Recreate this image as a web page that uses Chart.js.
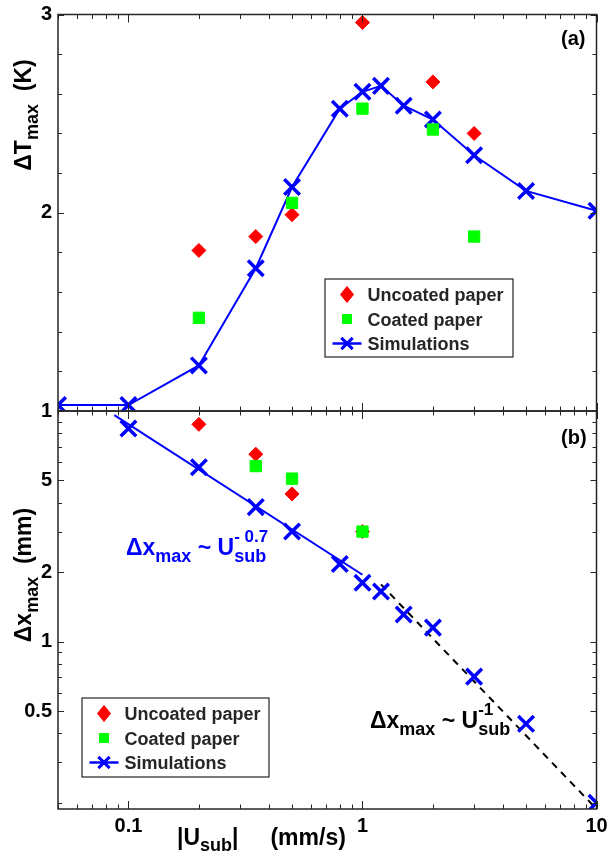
<!DOCTYPE html>
<html>
<head>
<meta charset="utf-8">
<script src="https://cdn.jsdelivr.net/npm/chart.js@4.4.0/dist/chart.umd.min.js"></script>
<style>
  body { margin: 0; background: #fff; }
  #wrap { position: relative; width: 611px; height: 854px; overflow: hidden; }
  #wrap canvas { position: absolute; left: 0; top: 0; }
</style>
</head>
<body>
<div id="wrap">
  <canvas id="tempChart" width="611" height="854"></canvas>
  <canvas id="widthChart" width="611" height="854"></canvas>
</div>
<script>
// Substrate speed |U_sub| (mm/s) for each series
const speedSimTop = [0.05, 0.1, 0.2, 0.35, 0.5, 0.8, 1, 1.2, 1.5, 2, 3, 5, 10];
const tempSim = [1.03, 1.03, 1.23, 1.72, 2.13, 2.525, 2.61, 2.64, 2.54, 2.47, 2.29, 2.11, 2.01];
const speedUncoatedTop = [0.2, 0.35, 0.5, 1, 2, 3];
const tempUncoated = [1.81, 1.88, 1.99, 2.96, 2.66, 2.40];
const speedCoatedTop = [0.2, 0.5, 1, 2, 3];
const tempCoated = [1.47, 2.05, 2.525, 2.42, 1.88];

const speedSimBottom = [0.1, 0.2, 0.35, 0.5, 0.8, 1, 1.2, 1.5, 2, 3, 5, 10];
const widthSim = [8.4, 5.7, 3.83, 3.0, 2.17, 1.8, 1.65, 1.31, 1.15, 0.705, 0.44, 0.2];
const speedUncoatedBottom = [0.2, 0.35, 0.5, 1];
const widthUncoated = [8.75, 6.5, 4.37, 3.0];
const speedCoatedBottom = [0.35, 0.5, 1];
const widthCoated = [5.77, 5.09, 3.0];

// power-law guide lines (end points)
const slowFitSpeed = [0.087, 1];
const slowFitWidth = [9.6, 1.95];
const fastFitSpeed = [1.2, 10];
const fastFitWidth = [1.77, 0.188];

// axis ticks
const xLabels = [0.1, 1, 10];
const xMinor = [0.05, 0.06, 0.07, 0.08, 0.09, 0.2, 0.3, 0.4, 0.5, 0.6, 0.7, 0.8, 0.9, 2, 3, 4, 5, 6, 7, 8, 9];
const tempLabels = [1, 2, 3];
const tempMinor = [1.2, 1.4, 1.6, 1.8, 2.2, 2.4, 2.6, 2.8];
const widthLabels = [0.5, 1, 2, 5];
const widthMajor = [0.5, 1, 2, 5, 10];
const widthMinor = [0.2, 0.3, 0.4, 0.6, 0.7, 0.8, 0.9, 3, 4, 6, 7, 8, 9];

const FONT = '"Liberation Sans", Arial, Helvetica, sans-serif';
const tickFont = { family: FONT, size: 20, weight: 'bold' };

const pts = (xs, ys) => xs.map((x, i) => ({ x, y: ys[i] }));

const uncoatedStyle = { pointStyle: 'rectRot', pointRadius: 7, backgroundColor: '#ff0000', borderColor: '#ff0000', borderWidth: 1 };
const coatedStyle = { pointStyle: 'rect', pointRadius: 8, backgroundColor: '#00ff00', borderColor: '#00ff00', borderWidth: 1 };
const simStyle = { pointStyle: 'crossRot', pointRadius: 11, borderColor: '#0000ff', backgroundColor: '#0000ff', pointBorderWidth: 3.5 };

// axis box with inward tick marks on all four sides
function frameTicks(xMajor, xMinorList, yMajor, yMinorList) {
  return {
    id: 'frameTicks',
    afterDraw(chart) {
      const { ctx, chartArea: a, scales } = chart;
      ctx.save();
      ctx.strokeStyle = '#262626';
      ctx.lineWidth = 1;
      ctx.beginPath();
      const xt = xMajor.map(v => [v, 8]).concat(xMinorList.map(v => [v, 4.5]));
      xt.forEach(([v, len]) => {
        const px = Math.round(scales.x.getPixelForValue(v)) + 0.5;
        ctx.moveTo(px, a.top); ctx.lineTo(px, a.top + len);
        ctx.moveTo(px, a.bottom); ctx.lineTo(px, a.bottom - len);
      });
      const yt = yMajor.map(v => [v, 6]).concat(yMinorList.map(v => [v, 4]));
      yt.forEach(([v, len]) => {
        const py = Math.round(scales.y.getPixelForValue(v)) + 0.5;
        ctx.moveTo(a.left, py); ctx.lineTo(a.left + len, py);
        ctx.moveTo(a.right, py); ctx.lineTo(a.right - len, py);
      });
      ctx.stroke();
      ctx.lineWidth = 1.5;
      ctx.strokeRect(a.left, a.top, a.right - a.left, a.bottom - a.top);
      ctx.restore();
    }
  };
}

// text with sub/superscripts; a run is {text, size, dy} or an array of runs stacked at one x
function drawRuns(ctx, item) {
  ctx.save();
  ctx.fillStyle = item.color || '#000';
  ctx.textBaseline = 'alphabetic';
  ctx.translate(item.x, item.y);
  if (item.rotate) ctx.rotate(-Math.PI / 2);
  const widthOf = r => { ctx.font = `bold ${r.size}px ${FONT}`; return ctx.measureText(r.text).width; };
  const groups = item.runs.map(r => Array.isArray(r) ? r : [r]);
  const total = groups.reduce((s, g) => s + Math.max(...g.map(widthOf)), 0);
  let x = item.center ? -total / 2 : 0;
  groups.forEach(g => {
    let w = 0;
    g.forEach(r => {
      w = Math.max(w, widthOf(r));
      ctx.fillText(r.text, x, r.dy || 0);
    });
    x += w;
  });
  ctx.restore();
}

function textLayer(items) {
  return {
    id: 'textLayer',
    afterDraw(chart) { items.forEach(item => drawRuns(chart.ctx, item)); }
  };
}

// boxed legend placed inside the plot area
const legendEntries = [
  { index: 1, radius: 8, w: 13 },
  { index: 0, radius: 6.4, w: 9 },
  { index: 2, radius: 8, lineWidth: 3, line: true }
];

function boxLegend(box) {
  return {
    id: 'boxLegend',
    afterDraw(chart) {
      const { ctx } = chart;
      ctx.save();
      ctx.fillStyle = '#fff';
      ctx.fillRect(box.x, box.y, box.w, box.h);
      ctx.strokeStyle = '#262626';
      ctx.lineWidth = 1.2;
      ctx.strokeRect(box.x, box.y, box.w, box.h);
      legendEntries.forEach((e, i) => {
        const ds = chart.data.datasets[e.index];
        const cy = box.y + 15.5 + i * 24.5;
        const mx = box.x + 22;
        ctx.strokeStyle = ds.borderColor;
        ctx.fillStyle = ds.backgroundColor;
        if (e.line) {
          ctx.lineWidth = 2.5;
          ctx.beginPath();
          ctx.moveTo(box.x + 7.5, cy); ctx.lineTo(box.x + 36.5, cy);
          ctx.stroke();
        }
        ctx.lineWidth = e.lineWidth || 1;
        Chart.helpers.drawPointLegend(ctx, { pointStyle: ds.pointStyle, radius: e.radius, rotation: 0, borderWidth: e.lineWidth || 1 }, mx, cy, e.w);
        ctx.fillStyle = '#262626';
        ctx.font = `bold 18px ${FONT}`;
        ctx.textBaseline = 'alphabetic';
        ctx.fillText(ds.label, box.x + 42.5, cy + 6.5);
      });
      ctx.restore();
    }
  };
}

const tempTexts = [
  { x: 31, y: 115, rotate: true, center: true, runs: [
    { text: 'ΔT', size: 23 }, { text: 'max', size: 18, dy: 7 }, { text: '  (K)', size: 23 }] },
  { x: 561, y: 45, runs: [{ text: '(a)', size: 20 }] }
];

const widthTexts = [
  { x: 31, y: 575, rotate: true, center: true, runs: [
    { text: 'Δx', size: 23 }, { text: 'max', size: 18, dy: 7 }, { text: '  (mm)', size: 23 }] },
  { x: 177, y: 845, runs: [
    { text: '|U', size: 23 }, { text: 'sub', size: 18, dy: 6 }, { text: '|     (mm/s)', size: 23 }] },
  { x: 561, y: 444, runs: [{ text: '(b)', size: 20 }] },
  { x: 126, y: 555, color: '#0000ff', runs: [
    { text: 'Δx', size: 23 }, { text: 'max', size: 18, dy: 7 }, { text: ' ~ U', size: 23 },
    [{ text: 'sub', size: 18, dy: 7 }, { text: '- 0.7', size: 17, dy: -13 }]] },
  { x: 370, y: 728, color: '#000', runs: [
    { text: 'Δx', size: 23 }, { text: 'max', size: 18, dy: 7 }, { text: ' ~ U', size: 23 },
    [{ text: 'sub', size: 18, dy: 7 }, { text: '-1', size: 17, dy: -13 }]] }
];

// (a) peak temperature rise
new Chart(document.getElementById('tempChart'), {
  type: 'scatter',
  data: {
    datasets: [
      { label: 'Coated paper', data: pts(speedCoatedTop, tempCoated), order: 1, clip: 0, ...coatedStyle },
      { label: 'Uncoated paper', data: pts(speedUncoatedTop, tempUncoated), order: 2, clip: 0, ...uncoatedStyle },
      { label: 'Simulations', data: pts(speedSimTop, tempSim), order: 3, clip: 0, showLine: true, borderWidth: 2, ...simStyle }
    ]
  },
  options: {
    responsive: false,
    animation: false,
    layout: { padding: { left: 0, top: 12, right: 8, bottom: 443 } },
    plugins: { legend: { display: false }, tooltip: { enabled: false } },
    scales: {
      x: {
        type: 'logarithmic', min: 0.05, max: 10,
        ticks: { display: false },
        grid: { display: false, drawTicks: false },
        border: { display: false },
        afterFit: s => { s.height = 0; s.paddingLeft = 0; s.paddingRight = 0; }
      },
      y: {
        type: 'linear', min: 1, max: 3,
        afterBuildTicks: s => { s.ticks = tempLabels.map(v => ({ value: v })); },
        ticks: { font: tickFont, color: '#000', padding: 6, callback: v => String(v) },
        grid: { display: false, drawTicks: false },
        border: { display: false },
        afterFit: s => { s.width = 58; s.paddingTop = 0; s.paddingBottom = 0; }
      }
    }
  },
  plugins: [frameTicks(xLabels, xMinor, tempLabels, tempMinor), boxLegend({ x: 325, y: 279, w: 188, h: 78 }), textLayer(tempTexts)]
});

// (b) maximum spreading distance
new Chart(document.getElementById('widthChart'), {
  type: 'scatter',
  data: {
    datasets: [
      { label: 'Coated paper', data: pts(speedCoatedBottom, widthCoated), order: 1, clip: 0, ...coatedStyle },
      { label: 'Uncoated paper', data: pts(speedUncoatedBottom, widthUncoated), order: 2, clip: 0, ...uncoatedStyle },
      { label: 'Simulations', data: pts(speedSimBottom, widthSim), order: 3, clip: 0, showLine: false, ...simStyle },
      { label: 'slow fit', data: pts(slowFitSpeed, slowFitWidth), order: 4, clip: 0, showLine: true, pointRadius: 0, borderColor: '#0000ff', borderWidth: 2 },
      { label: 'fast fit', data: pts(fastFitSpeed, fastFitWidth), order: 4, clip: 0, showLine: true, pointRadius: 0, borderColor: '#000', borderWidth: 2, borderDash: [7, 6] }
    ]
  },
  options: {
    responsive: false,
    animation: false,
    layout: { padding: { left: 0, top: 411, right: 8, bottom: 0 } },
    plugins: { legend: { display: false }, tooltip: { enabled: false } },
    scales: {
      x: {
        type: 'logarithmic', min: 0.05, max: 10,
        afterBuildTicks: s => { s.ticks = xLabels.map(v => ({ value: v })); },
        ticks: { font: tickFont, color: '#000', padding: 5, maxRotation: 0, autoSkip: false, callback: v => String(v) },
        grid: { display: false, drawTicks: false },
        border: { display: false },
        afterFit: s => { s.height = 45; s.paddingLeft = 0; s.paddingRight = 0; }
      },
      y: {
        type: 'logarithmic', min: 0.188, max: 10,
        afterBuildTicks: s => { s.ticks = widthLabels.map(v => ({ value: v })); },
        ticks: { font: tickFont, color: '#000', padding: 6, autoSkip: false, callback: v => String(v) },
        grid: { display: false, drawTicks: false },
        border: { display: false },
        afterFit: s => { s.width = 58; s.paddingTop = 0; s.paddingBottom = 0; }
      }
    }
  },
  plugins: [frameTicks(xLabels, xMinor, widthMajor, widthMinor), boxLegend({ x: 82, y: 698, w: 187, h: 79 }), textLayer(widthTexts)]
});
</script>
</body>
</html>
